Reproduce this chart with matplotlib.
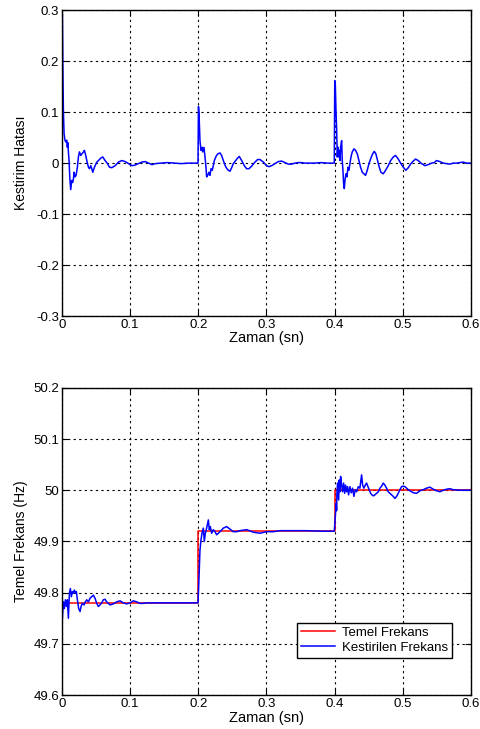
import matplotlib
matplotlib.use("Agg")
import matplotlib.pyplot as plt

plt.rcParams['font.family'] = ['Liberation Sans', 'DejaVu Sans']

# ---------------- Data: estimation error (top) ----------------
err_t = [0.0, 0.0005, 0.001, 0.0015, 0.002, 0.003, 0.0044, 0.0059, 0.0068, 0.0078,
         0.0085, 0.0093, 0.0103, 0.0113, 0.0127, 0.0142, 0.0156, 0.0167, 0.0176, 0.0191,
         0.0206, 0.0225, 0.024, 0.0255, 0.0275, 0.029, 0.0314, 0.0328, 0.0348, 0.0363,
         0.0387, 0.0402, 0.0422, 0.0436, 0.0451, 0.0475, 0.051, 0.0534, 0.0569, 0.0598,
         0.0632, 0.0667, 0.0696, 0.073, 0.078, 0.0828, 0.0877, 0.0926, 0.0975, 0.1025,
         0.107, 0.112, 0.117, 0.122, 0.127, 0.132, 0.137, 0.145, 0.155, 0.165,
         0.175, 0.185, 0.195, 0.1995,
         0.2002, 0.201, 0.2024, 0.2039, 0.2054, 0.2064, 0.2083, 0.2098, 0.2112, 0.2122,
         0.2137, 0.2156, 0.2171, 0.2186, 0.2205, 0.222, 0.2235, 0.2259, 0.2284, 0.2318,
         0.2342, 0.2367, 0.2401, 0.243, 0.2465, 0.2489, 0.2513, 0.2548, 0.2577, 0.2601,
         0.2636, 0.2675, 0.2709, 0.2743, 0.2782, 0.2831, 0.287, 0.2905, 0.2954, 0.3002,
         0.3037, 0.3076, 0.3125, 0.3174, 0.3222, 0.3271, 0.332, 0.3369, 0.3418, 0.3467,
         0.3516, 0.3565, 0.37, 0.38, 0.39, 0.3995,
         0.4002, 0.401, 0.402, 0.4029, 0.4039, 0.4049, 0.4059, 0.4068, 0.4078, 0.4088,
         0.4103, 0.4112, 0.4122, 0.4132, 0.4142, 0.4152, 0.4166, 0.4181, 0.4196, 0.421,
         0.4225, 0.424, 0.4259, 0.4284, 0.4308, 0.4333, 0.4357, 0.4381, 0.4406, 0.443,
         0.4455, 0.4479, 0.4504, 0.4528, 0.4557, 0.4582, 0.4606, 0.4631, 0.4655, 0.468,
         0.4714, 0.4748, 0.4787, 0.4822, 0.4861, 0.4895, 0.4934, 0.4973, 0.5007, 0.5046,
         0.5081, 0.512, 0.5154, 0.5188, 0.5227, 0.5276, 0.5325, 0.5374, 0.5423, 0.5462,
         0.5496, 0.5545, 0.5594, 0.5643, 0.5692, 0.5741, 0.58, 0.5838, 0.5887, 0.5936, 0.6]
err_v = [0.30, 0.29, 0.21, 0.15, 0.10, 0.057, 0.044, 0.041, 0.045, 0.031,
         0.040, 0.022, 0.005, -0.027, -0.052, -0.034, -0.038, -0.031, -0.018, -0.027,
         -0.024, -0.008, 0.012, 0.022, 0.015, 0.018, 0.022, 0.025, 0.015, 0.005,
         -0.008, -0.011, -0.005, -0.011, -0.018, -0.008, 0.002, 0.005, 0.010, 0.012,
         0.005, -0.001, -0.008, -0.009, -0.005, 0.002, 0.005, 0.003, -0.001, -0.005,
         -0.004, -0.001, 0.002, 0.003, 0.0, -0.003, -0.001, 0.0, 0.001, 0.0,
         -0.001, 0.0, 0.0, 0.0,
         0.111, 0.097, 0.044, 0.025, 0.031, 0.022, 0.031, 0.012, -0.008, -0.027,
         -0.024, -0.018, -0.024, -0.011, -0.014, -0.005, 0.005, 0.013, 0.018, 0.020,
         0.015, 0.005, -0.007, -0.013, -0.016, -0.009, -0.001, 0.005, 0.010, 0.013,
         0.005, -0.005, -0.011, -0.011, -0.006, 0.002, 0.007, 0.007, 0.002, -0.005,
         -0.007, -0.005, -0.001, 0.003, 0.004, 0.001, -0.002, -0.002, 0.0, 0.001,
         0.001, 0.0, 0.0, 0.001, 0.0, 0.0,
         0.162, 0.155, 0.103, 0.070, 0.012, 0.031, 0.012, 0.025, 0.005, 0.031,
         0.044, 0.005, -0.014, -0.040, -0.050, -0.034, -0.021, -0.027, -0.008, -0.014,
         -0.001, 0.012, 0.022, 0.028, 0.025, 0.018, 0.005, -0.008, -0.018, -0.021,
         -0.024, -0.014, -0.001, 0.008, 0.018, 0.023, 0.018, 0.005, -0.008, -0.018,
         -0.021, -0.014, -0.005, 0.005, 0.012, 0.015, 0.008, -0.001, -0.008, -0.014,
         -0.009, -0.001, 0.004, 0.008, 0.005, -0.001, -0.005, -0.003, 0.0, 0.001,
         0.005, 0.003, 0.0, -0.001, -0.002, 0.0, 0.0, 0.001, 0.002, 0.0, 0.0]

# ---------------- Data: frequency (bottom) ----------------
true_t = [0.0, 0.2, 0.4, 0.6]
true_f = [49.78, 49.92, 50.0, 50.0]

est_t = [0.0, 0.001, 0.002, 0.0034, 0.0049, 0.0064, 0.0078, 0.0093, 0.0108, 0.0122,
         0.0137, 0.0152, 0.0166, 0.0181, 0.0196, 0.021, 0.0225, 0.0244, 0.0264, 0.0279,
         0.0298, 0.0323, 0.0342, 0.0362, 0.0386, 0.0411, 0.0435, 0.046, 0.0484, 0.0509,
         0.0533, 0.0557, 0.0582, 0.0606, 0.0631, 0.0655, 0.068, 0.0704, 0.0753, 0.0802,
         0.0851, 0.09, 0.0949, 0.0998, 0.1046, 0.1095, 0.1144, 0.1193, 0.1242, 0.134,
         0.1438, 0.1535, 0.1731, 0.1976, 0.1995,
         0.2005, 0.2015, 0.2024, 0.2039, 0.2054, 0.2073, 0.2088, 0.2103, 0.2117, 0.2132,
         0.2147, 0.2161, 0.2176, 0.2196, 0.222, 0.2244, 0.2269, 0.2293, 0.2318, 0.2367,
         0.2416, 0.2465, 0.2513, 0.2562, 0.2611, 0.2709, 0.2807, 0.2904, 0.3002, 0.31,
         0.3198, 0.3345, 0.3589, 0.3834, 0.3995,
         0.401, 0.4024, 0.4029, 0.4034, 0.4044, 0.4059, 0.4068, 0.4078, 0.4088, 0.4103,
         0.4117, 0.4132, 0.4147, 0.4161, 0.4176, 0.4191, 0.4205, 0.4225, 0.4244, 0.4264,
         0.4283, 0.4303, 0.4323, 0.4347, 0.4371, 0.4396, 0.4411, 0.443, 0.445, 0.4469,
         0.4489, 0.4508, 0.4528, 0.4547, 0.4567, 0.4592, 0.4616, 0.4641, 0.4665, 0.469,
         0.4714, 0.4738, 0.4763, 0.4787, 0.4812, 0.4836, 0.486, 0.4885, 0.491, 0.4934,
         0.4958, 0.4983, 0.5007, 0.5032, 0.5056, 0.5081, 0.5105, 0.5154, 0.5203, 0.5252,
         0.53, 0.5349, 0.5398, 0.5447, 0.5496, 0.5545, 0.5594, 0.5643, 0.5692, 0.5741,
         0.5839, 0.6]
est_f = [49.74, 49.76, 49.782, 49.769, 49.786, 49.773, 49.786, 49.75, 49.799, 49.808,
         49.792, 49.802, 49.799, 49.805, 49.799, 49.802, 49.786, 49.769, 49.763, 49.773,
         49.779, 49.776, 49.782, 49.786, 49.782, 49.789, 49.792, 49.795, 49.789, 49.779,
         49.773, 49.776, 49.78, 49.786, 49.787, 49.782, 49.779, 49.776, 49.778, 49.782,
         49.784, 49.78, 49.778, 49.78, 49.784, 49.782, 49.779, 49.779, 49.78, 49.78,
         49.78, 49.78, 49.78, 49.78, 49.78,
         49.812, 49.851, 49.883, 49.903, 49.916, 49.926, 49.90, 49.916, 49.923, 49.932,
         49.942, 49.923, 49.929, 49.916, 49.923, 49.919, 49.913, 49.916, 49.919, 49.926,
         49.929, 49.924, 49.919, 49.919, 49.921, 49.923, 49.918, 49.916, 49.919, 49.919,
         49.921, 49.921, 49.921, 49.92, 49.92,
         49.948, 49.975, 49.96, 49.994, 50.014, 49.981, 50.02, 49.997, 50.027, 50.01,
         49.997, 50.014, 49.994, 50.01, 49.997, 50.007, 49.991, 50.007, 49.995, 50.004,
         49.988, 50.001, 49.997, 50.007, 50.004, 50.03, 50.01, 50.004, 50.01, 50.014,
         50.007, 50.001, 49.994, 49.991, 49.989, 49.991, 49.994, 49.997, 50.004, 50.008,
         50.014, 50.01, 50.004, 49.997, 49.994, 49.991, 49.988, 49.984, 49.988, 49.994,
         50.001, 50.007, 50.008, 50.007, 50.004, 50.001, 49.999, 49.995, 49.994, 49.999,
         50.001, 50.004, 50.006, 50.002, 49.999, 49.997, 50.0, 50.002, 50.003, 50.001,
         50.0, 50.0]

xticks = [0, 0.1, 0.2, 0.3, 0.4, 0.5, 0.6]
xtick_labels = ['0', '0.1', '0.2', '0.3', '0.4', '0.5', '0.6']
err_yticks = [-0.3, -0.2, -0.1, 0, 0.1, 0.2, 0.3]
err_ytick_labels = ['-0.3', '-0.2', '-0.1', '0', '0.1', '0.2', '0.3']
freq_yticks = [49.6, 49.7, 49.8, 49.9, 50.0, 50.1, 50.2]
freq_ytick_labels = ['49.6', '49.7', '49.8', '49.9', '50', '50.1', '50.2']

# ---------------- Figure ----------------
fig = plt.figure(figsize=(4.81, 7.29), dpi=100)
ax1 = fig.add_axes([0.129, 0.5665, 0.850, 0.4195])
ax2 = fig.add_axes([0.129, 0.0466, 0.850, 0.4214])


def style(ax, yticks, ylabels):
    ax.set_xlim(0, 0.6)
    ax.set_xticks(xticks)
    ax.set_xticklabels(xtick_labels)
    ax.set_yticks(yticks)
    ax.set_yticklabels(ylabels)
    ax.set_ylim(yticks[0], yticks[-1])
    ax.grid(True, color='black', linestyle=(0, (2, 3)), linewidth=0.8)
    ax.tick_params(direction='in', length=4, width=0.8, labelsize=9.5,
                   top=True, right=True, pad=2)
    for s in ax.spines.values():
        s.set_linewidth(1.0)
    ax.set_xlabel('Zaman (sn)', fontsize=10.5, labelpad=0.5)


ax1.plot(err_t, err_v, color='#0000ff', linewidth=1.1)
style(ax1, err_yticks, err_ytick_labels)
ax1.set_ylabel('Kestirim Hatası', fontsize=10, labelpad=6)

ax2.plot(true_t, true_f, color='#ff0000', linewidth=1.1, drawstyle='steps-post',
         label='Temel Frekans')
ax2.plot(est_t, est_f, color='#0000ff', linewidth=1.1, label='Kestirilen Frekans')
style(ax2, freq_yticks, freq_ytick_labels)
ax2.set_ylabel('Temel Frekans (Hz)', fontsize=10, labelpad=4)

leg = ax2.legend(loc='upper right', bbox_to_anchor=(0.954, 0.235), fontsize=9.5,
                 frameon=True, fancybox=False, edgecolor='black', framealpha=1,
                 handlelength=2.6, borderpad=0.3, labelspacing=0.2, handletextpad=0.5,
                 borderaxespad=0)
leg.get_frame().set_linewidth(1.0)

fig.savefig('out.png', dpi=100)
